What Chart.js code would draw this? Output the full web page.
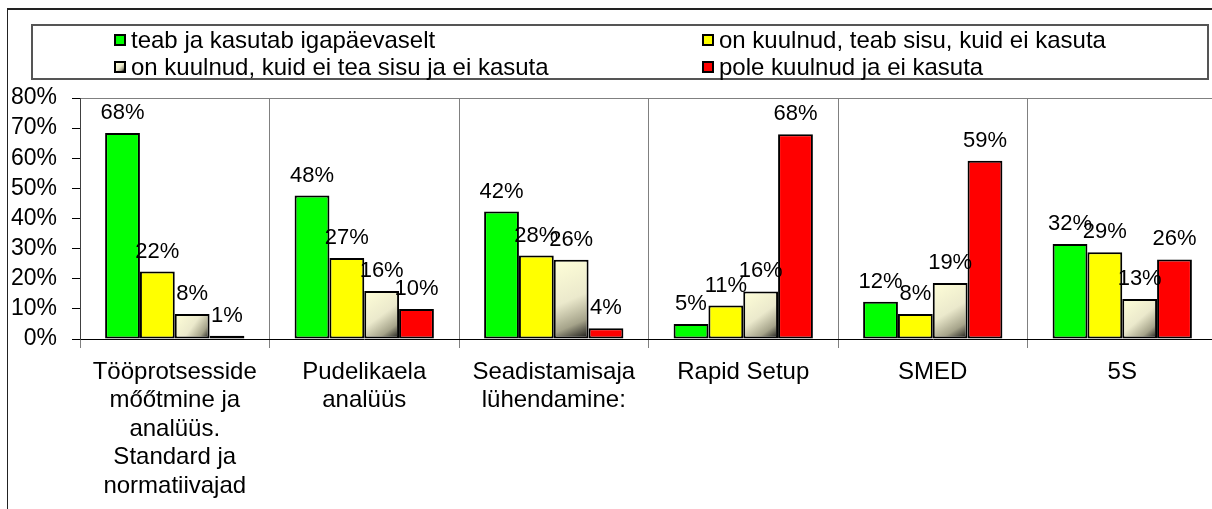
<!DOCTYPE html>
<html>
<head>
<meta charset="utf-8">
<script src="https://cdn.jsdelivr.net/npm/chart.js@4.4.1/dist/chart.umd.min.js"></script>
<style>
  html, body { margin: 0; padding: 0; background: #fff; overflow: hidden; }
  #wrap { position: relative; width: 1212px; height: 509px; overflow: hidden; }
  #frame { position: absolute; left: 7px; top: 8px; width: 1300px; height: 600px;
           border-top: 2px solid #222; border-left: 1px solid #222; }
  #chartCanvas { position: absolute; left: 0; top: 0; }
  #legend { position: absolute; left: 31px; top: 24px; width: 1178px; height: 56px;
            box-sizing: border-box; border: 2px solid #555; }
  .item { position: absolute; height: 28px; display: flex; align-items: center;
          font: 24px "Liberation Sans", Arial, sans-serif; color: #000; white-space: nowrap; }
  .box { width: 12px; height: 12px; box-sizing: border-box; border: 2px solid #000; margin-right: 5px; }
</style>
</head>
<body>
<div id="wrap">
  <div id="frame"></div>
  <canvas id="chartCanvas" width="1220" height="509"></canvas>
  <div id="legend"></div>
</div>
<script>
var categories = [
  ["Tööprotsesside", "mőőtmine ja", "analüüs.", "Standard ja", "normatiivajad"],
  ["Pudelikaela", "analüüs"],
  ["Seadistamisaja", "lühendamine:"],
  "Rapid Setup",
  "SMED",
  "5S"
];
var seriesNames = [
  "teab ja kasutab igapäevaselt",
  "on kuulnud, teab sisu, kuid ei kasuta",
  "on kuulnud, kuid ei tea sisu ja ei kasuta",
  "pole kuulnud ja ei kasuta"
];
var usesDaily   = [68.4, 47.6, 42.3, 5.0, 12.4, 31.5];
var knowsNoUse  = [22.4, 26.9, 27.7, 11.1, 8.3, 28.8];
var heardOnly   = [8.3, 15.9, 26.3, 15.8, 18.6, 13.3];
var neverHeard  = [1.1, 10.0, 3.6, 68.0, 59.2, 26.4];
var yTicks = [0, 10, 20, 30, 40, 50, 60, 70, 80];

var CAT_PCT = 0.735;
var FONT = '"Liberation Sans", Arial, sans-serif';

// diagonal cream -> black fill, one gradient per bar
function creamFill(ctx) {
  var chart = ctx.chart;
  var xs = chart.scales.x, ys = chart.scales.y;
  if (ctx.type !== 'data' || !xs || !ys) return '#d8d6bc';
  var n = chart.data.labels.length;
  var nSets = chart.data.datasets.length;
  var groupW = xs.width / n * CAT_PCT;
  var barW = groupW / nSets;
  var left = xs.getPixelForValue(ctx.dataIndex) - groupW / 2 + barW * ctx.datasetIndex;
  var top = ys.getPixelForValue(ctx.raw);
  var bottom = ys.getPixelForValue(0);
  if (![left, top, bottom, barW].every(isFinite) || barW <= 0) return '#d8d6bc';
  var g = chart.ctx.createLinearGradient(left, top, left + barW, bottom);
  g.addColorStop(0, '#ffffd8');
  g.addColorStop(0.5, '#ebe9cc');
  g.addColorStop(0.78, '#a5a38a');
  g.addColorStop(1, '#0c0c0c');
  return g;
}

var valueLabels = {
  id: 'valueLabels',
  afterDatasetsDraw: function(chart) {
    var c = chart.ctx;
    c.save();
    c.font = '22px ' + FONT;
    c.fillStyle = '#000';
    c.textAlign = 'center';
    c.textBaseline = 'alphabetic';
    chart.data.datasets.forEach(function(ds, i) {
      chart.getDatasetMeta(i).data.forEach(function(bar, j) {
        c.fillText(Math.round(ds.data[j]) + '%', bar.x, bar.y - 14);
      });
    });
    c.restore();
  }
};

// legend as html, two columns like the original
var htmlLegend = {
  id: 'htmlLegend',
  afterUpdate: function(chart) {
    var box = document.getElementById('legend');
    box.innerHTML = '';
    var cols = [81, 669], rows = [0, 27];
    var swatches = ['#00ff00', '#ffff00',
      'linear-gradient(135deg, #ffffd8 0%, #ebe9cc 50%, #a5a38a 78%, #0c0c0c 100%)', '#ff0000'];
    chart.data.datasets.forEach(function(ds, i) {
      var it = document.createElement('div');
      it.className = 'item';
      it.style.left = cols[i % 2] + 'px';
      it.style.top = rows[Math.floor(i / 2)] + 'px';
      var sw = document.createElement('span');
      sw.className = 'box';
      sw.style.background = swatches[i];
      it.appendChild(sw);
      it.appendChild(document.createTextNode(ds.label));
      box.appendChild(it);
    });
  }
};

Chart.defaults.font.family = FONT;
Chart.defaults.color = '#000';

function dataset(i, data, color) {
  return {
    label: seriesNames[i],
    data: data,
    backgroundColor: color,
    borderColor: '#000',
    borderWidth: 2,
    borderSkipped: false,
    categoryPercentage: CAT_PCT,
    barPercentage: 1
  };
}

new Chart(document.getElementById('chartCanvas'), {
  type: 'bar',
  data: {
    labels: categories,
    datasets: [
      dataset(0, usesDaily, '#00ff00'),
      dataset(1, knowsNoUse, '#ffff00'),
      dataset(2, heardOnly, creamFill),
      dataset(3, neverHeard, '#ff0000')
    ]
  },
  options: {
    responsive: false,
    animation: false,
    devicePixelRatio: 1,
    layout: { padding: { left: 0, right: 3, top: 98, bottom: 0 } },
    plugins: { legend: { display: false }, tooltip: { enabled: false } },
    scales: {
      x: {
        afterFit: function(s) { s.height = 170; },
        grid: { color: '#808080', tickColor: '#808080', tickLength: 9, offset: true },
        border: { color: '#000', width: 1 },
        ticks: { maxRotation: 0, autoSkip: false, padding: 10,
                 font: { size: 24, lineHeight: 28.5 / 24 } }
      },
      y: {
        min: 0, max: 80,
        afterFit: function(s) { s.width = 80; },
        afterBuildTicks: function(s) { s.ticks = yTicks.map(function(v) { return { value: v }; }); },
        grid: {
          color: function(ctx) { return ctx.tick && ctx.tick.value === 80 ? '#808080' : 'rgba(0,0,0,0)'; },
          tickColor: '#000', tickLength: 8
        },
        border: { color: '#404040', width: 1 },
        ticks: { padding: 15, autoSkip: false, font: { size: 23 },
                 callback: function(v) { return v + '%'; } }
      }
    }
  },
  plugins: [valueLabels, htmlLegend]
});
</script>
</body>
</html>
